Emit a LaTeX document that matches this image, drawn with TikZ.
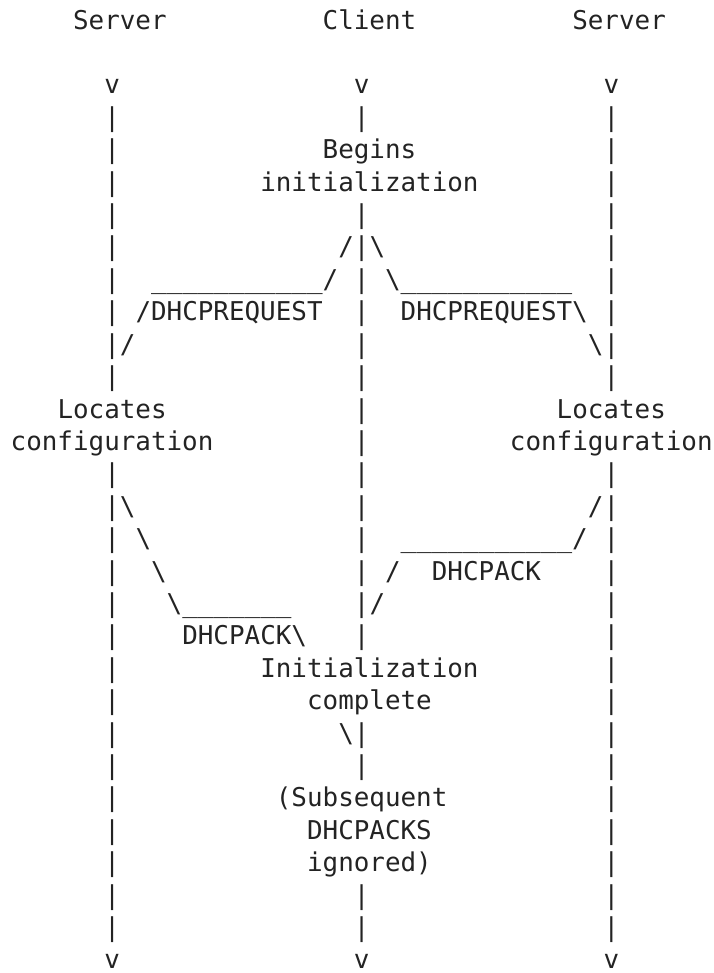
\documentclass[tikz,border=0pt]{standalone}
\usepackage{fontspec}
\newfontfamily\asciifont{DejaVu Sans Mono}
\definecolor{ink}{HTML}{232323}

\begin{document}
\begin{tikzpicture}[x=15.6pt,y=-32.4pt,
	ascii/.style={font={\asciifont\fontsize{25.9pt}{32.4pt}\selectfont},text=ink,inner sep=0pt,anchor=base west}]
	\useasboundingbox (-10.5pt,29.2pt) rectangle (702.5pt,-943.8pt);
	% column heads
	\node[ascii] (srvL) at (4,0) {Server};
	\node[ascii] (cli) at (20,0) {Client};
	\node[ascii] (srvR) at (36,0) {Server};
	\node[ascii] (vL) at (6,2) {v};
	\node[ascii] (vC) at (22,2) {v};
	\node[ascii] (vR) at (38,2) {v};
	% life lines
	\foreach \r in {3,4,...,11,14,15,...,28} {
		\node[ascii] (pL\r) at (6,\r) {|};
		\node[ascii] (pR\r) at (38,\r) {|};
	}
	\foreach \r in {3,6,7,...,19,22,23,27,28}
		\node[ascii] (pC\r) at (22,\r) {|};
	\node[ascii] (begins) at (20,4) {Begins};
	\node[ascii] (init) at (16,5) {initialization};
	% DHCPREQUEST broadcast
	\node[ascii] (reqL1) at (21,7) {/};
	\node[ascii] (reqR1) at (23,7) {\textbackslash};
	\node[ascii] (reqL2) at (9,8) {\_\_\_\_\_\_\_\_\_\_\_/};
	\node[ascii] (reqR2) at (24,8) {\textbackslash\_\_\_\_\_\_\_\_\_\_\_};
	\node[ascii] (reqL3) at (8,9) {/DHCPREQUEST};
	\node[ascii] (reqR3) at (25,9) {DHCPREQUEST\textbackslash};
	\node[ascii] (reqL4) at (7,10) {/};
	\node[ascii] (reqR4) at (37,10) {\textbackslash};
	\node[ascii] (locL) at (3,12) {Locates};
	\node[ascii] (cfgL) at (0,13) {configuration};
	\node[ascii] (locR) at (35,12) {Locates};
	\node[ascii] (cfgR) at (32,13) {configuration};
	% DHCPACK replies
	\node[ascii] (ackL1) at (7,15) {\textbackslash};
	\node[ascii] (ackR1) at (37,15) {/};
	\node[ascii] (ackL2) at (8,16) {\textbackslash};
	\node[ascii] (ackR2) at (25,16) {\_\_\_\_\_\_\_\_\_\_\_/};
	\node[ascii] (ackL3) at (9,17) {\textbackslash};
	\node[ascii] (ackR3) at (24,17) {/};
	\node[ascii] (ackRt) at (27,17) {DHCPACK};
	\node[ascii] (ackL4) at (10,18) {\textbackslash\_\_\_\_\_\_\_};
	\node[ascii] (ackR4) at (23,18) {/};
	\node[ascii] (ackLt) at (11,19) {DHCPACK\textbackslash};
	\node[ascii] (done1) at (16,20) {Initialization};
	\node[ascii] (done2) at (19,21) {complete};
	\node[ascii] (ackL5) at (21,22) {\textbackslash};
	\node[ascii] (ign1) at (17,24) {(Subsequent};
	\node[ascii] (ign2) at (19,25) {DHCPACKS};
	\node[ascii] (ign3) at (19,26) {ignored)};
	\node[ascii] (eL) at (6,29) {v};
	\node[ascii] (eC) at (22,29) {v};
	\node[ascii] (eR) at (38,29) {v};
\end{tikzpicture}
\end{document}
